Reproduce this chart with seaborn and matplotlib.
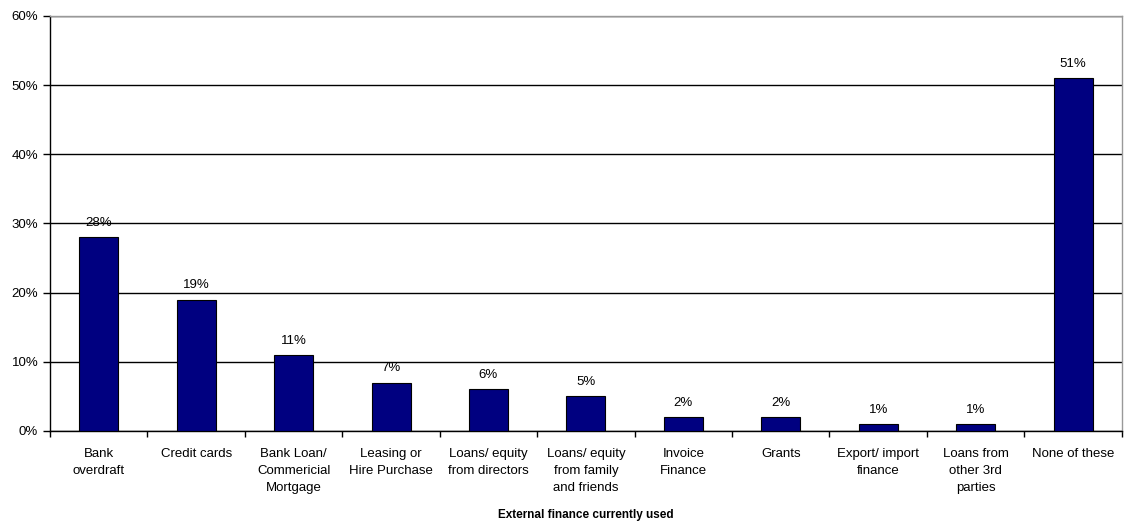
import matplotlib
matplotlib.use('Agg')
import matplotlib.pyplot as plt
import seaborn as sns
import pandas as pd
from matplotlib.ticker import FuncFormatter, FixedLocator

categories = ['Bank\noverdraft', 'Credit cards', 'Bank Loan/\nCommericial\nMortgage',
              'Leasing or\nHire Purchase', 'Loans/ equity\nfrom directors',
              'Loans/ equity\nfrom family\nand friends', 'Invoice\nFinance', 'Grants',
              'Export/ import\nfinance', 'Loans from\nother 3rd\nparties', 'None of these']
values = [28, 19, 11, 7, 6, 5, 2, 2, 1, 1, 51]

sns.set_theme(style='white')
plt.rcParams['font.family'] = ['Liberation Sans', 'DejaVu Sans']

df = pd.DataFrame({'cat': categories, 'val': values})

fig, ax = plt.subplots(figsize=(11.24, 5.24), dpi=100)
fig.subplots_adjust(left=0.0445, right=0.998, top=0.9695, bottom=0.1775)

sns.barplot(data=df, x='cat', y='val', color='#000080', width=0.4,
            edgecolor='black', linewidth=0.8, saturation=1, ax=ax, zorder=3)

ax.set_ylim(0, 60)
ax.set_xlim(-0.5, len(categories) - 0.5)
ax.set_yticks(range(0, 61, 10))
ax.yaxis.set_major_formatter(FuncFormatter(lambda v, p: f'{int(v)}%'))
ax.grid(axis='y', color='black', linewidth=1, zorder=0)
ax.set_axisbelow(True)

for i, v in enumerate(values):
    ax.text(i, v + 1.2, f'{v}%', ha='center', va='bottom', fontsize=9.5, color='black')

# x ticks between categories
ax.set_xticks(range(len(categories)))
ax.set_xticklabels(categories, fontsize=9.5, linespacing=1.55, color='black')
ax.tick_params(axis='x', length=0, pad=12)
ax.xaxis.set_minor_locator(FixedLocator([i - 0.5 for i in range(len(categories) + 1)]))
ax.tick_params(axis='x', which='minor', length=4, width=1, color='black', direction='out', bottom=True)
ax.tick_params(axis='y', length=5, width=1, color='black', direction='out', left=True,
               labelsize=9.5, labelcolor='black')

for side in ['left', 'bottom']:
    ax.spines[side].set_color('black')
    ax.spines[side].set_linewidth(1)
for side in ['top', 'right']:
    ax.spines[side].set_color('#999999')
    ax.spines[side].set_linewidth(1)

ax.set_ylabel('')
ax.set_xlabel('External finance currently used', fontsize=8.5, fontweight='bold',
              color='black', labelpad=11)

fig.savefig('out.png', dpi=100)
